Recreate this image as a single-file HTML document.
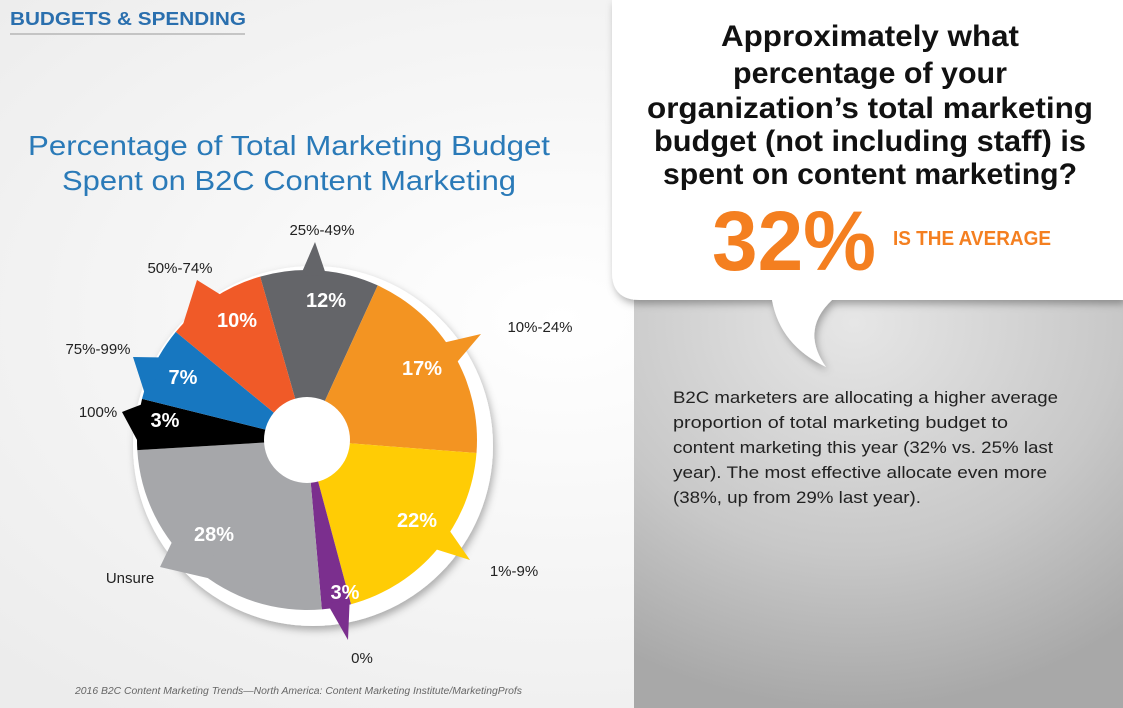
<!DOCTYPE html>
<html><head><meta charset="utf-8"><style>
html,body{margin:0;padding:0;width:1123px;height:708px;overflow:hidden;background:#fff}
svg{display:block;font-family:"Liberation Sans",sans-serif}
</style></head><body>
<svg width="1123" height="708" viewBox="0 0 1123 708" xmlns="http://www.w3.org/2000/svg">
<defs>
<radialGradient id="bg" cx="0.5" cy="0.45" r="0.7">
<stop offset="0" stop-color="#ffffff"/><stop offset="1" stop-color="#ececec"/></radialGradient>
<radialGradient id="gp" cx="0.45" cy="0.1" r="0.9">
<stop offset="0" stop-color="#e6e6e6"/><stop offset="0.6" stop-color="#c8c8c8"/><stop offset="1" stop-color="#a8a8a8"/></radialGradient>
<filter id="sh" x="-10%" y="-10%" width="130%" height="130%"><feDropShadow dx="2" dy="4" stdDeviation="4" flood-opacity="0.3"/></filter>
</defs>
<rect width="1123" height="708" fill="url(#bg)"/>
<rect x="634" y="280" width="489" height="428" fill="url(#gp)"/>
<g filter="url(#sh)">
<path d="M612,0 H1123 V300 H832 Q800,330 826,367 Q780,345 772,300 H640 Q612,300 612,272 Z" fill="#fff"/>
</g>
<text x="10" y="25" font-size="18" font-weight="bold" fill="#2a6fae" textLength="236" lengthAdjust="spacingAndGlyphs">BUDGETS &amp; SPENDING</text>
<line x1="10" y1="34" x2="245" y2="34" stroke="#999" stroke-width="1"/>
<text x="289" y="155" font-size="28" fill="#2a7ab8" text-anchor="middle" textLength="522" lengthAdjust="spacingAndGlyphs">Percentage of Total Marketing Budget</text>
<text x="289" y="190" font-size="28" fill="#2a7ab8" text-anchor="middle" textLength="454" lengthAdjust="spacingAndGlyphs">Spent on B2C Content Marketing</text>
<circle cx="313" cy="446" r="180" fill="#fff" filter="url(#sh)"/>
<g id="pie" transform="translate(307,440)"></g>
<g font-size="15" fill="#222" text-anchor="middle">
<text x="322" y="235">25%-49%</text>
<text x="180" y="273">50%-74%</text>
<text x="540" y="332">10%-24%</text>
<text x="98" y="354">75%-99%</text>
<text x="98" y="417">100%</text>
<text x="130" y="583">Unsure</text>
<text x="362" y="663">0%</text>
<text x="514" y="576">1%-9%</text>
</g>
<g font-size="20" font-weight="bold" fill="#fff" text-anchor="middle">
<text x="326" y="307">12%</text>
<text x="237" y="327">10%</text>
<text x="422" y="375">17%</text>
<text x="183" y="384">7%</text>
<text x="165" y="427">3%</text>
<text x="214" y="541">28%</text>
<text x="417" y="527">22%</text>
<text x="345" y="599">3%</text>
</g>
<g font-size="30" font-weight="bold" fill="#111" text-anchor="middle" lengthAdjust="spacingAndGlyphs">
<text x="870" y="46" textLength="298" lengthAdjust="spacingAndGlyphs">Approximately what</text>
<text x="870" y="83" textLength="274" lengthAdjust="spacingAndGlyphs">percentage of your</text>
<text x="870" y="118" textLength="446" lengthAdjust="spacingAndGlyphs">organization’s total marketing</text>
<text x="870" y="151" textLength="432" lengthAdjust="spacingAndGlyphs">budget (not including staff) is</text>
<text x="870" y="184" textLength="414" lengthAdjust="spacingAndGlyphs">spent on content marketing?</text>
</g>
<text x="712" y="270" font-size="84" font-weight="bold" fill="#f47f20" textLength="164" lengthAdjust="spacingAndGlyphs">32%</text>
<text x="893" y="245" font-size="20" font-weight="bold" fill="#f47f20" textLength="158" lengthAdjust="spacingAndGlyphs">IS THE AVERAGE</text>
<g font-size="17" fill="#222">
<text x="673" y="403" textLength="385" lengthAdjust="spacingAndGlyphs">B2C marketers are allocating a higher average</text>
<text x="673" y="428" textLength="335" lengthAdjust="spacingAndGlyphs">proportion of total marketing budget to</text>
<text x="673" y="453" textLength="380" lengthAdjust="spacingAndGlyphs">content marketing this year (32% vs. 25% last</text>
<text x="673" y="478" textLength="374" lengthAdjust="spacingAndGlyphs">year). The most effective allocate even more</text>
<text x="673" y="503" textLength="248" lengthAdjust="spacingAndGlyphs">(38%, up from 29% last year).</text>
</g>
<text x="75" y="694" font-size="10" font-style="italic" fill="#666" textLength="447" lengthAdjust="spacingAndGlyphs">2016 B2C Content Marketing Trends—North America: Content Marketing Institute/MarketingProfs</text>
<script>
(function(){
var g=document.getElementById('pie'),ns='http://www.w3.org/2000/svg',R=170;
function pt(a,r){a=a*Math.PI/180;return [r*Math.sin(a),-r*Math.cos(a)];}
var s=[[-16,24.6,'#646569',[315,242]],[24.6,94.4,'#f39422',[481,334]],[94.4,165,'#ffcc05',[470,560]],[165,175,'#7b2f8e',[348,640]],[175,266.6,'#a6a7aa',[160,567]],[266.6,284,'#000',[122,412]],[284,309.5,'#1777c0',[133,357]],[309.5,344,'#f05a28',[197,280]]];
s.forEach(function(d){
var a=pt(d[0],R),b=pt(d[1],R),p=document.createElementNS(ns,'path');
p.setAttribute('d','M0,0L'+a+'A'+R+','+R+' 0 0 1 '+b+'Z');p.setAttribute('fill',d[2]);g.appendChild(p);
var tx=d[3][0]-307,ty=d[3][1]-440,ang=Math.atan2(tx,-ty)*180/Math.PI;
var lo=Math.max(ang-4.5,d[0]),hi=Math.min(ang+4.5,d[1]);
var c=pt(lo,R-5),e=pt(hi,R-5),t=document.createElementNS(ns,'polygon');
t.setAttribute('points',c+' '+tx+','+ty+' '+e);t.setAttribute('fill',d[2]);g.appendChild(t);
});
var h=document.createElementNS(ns,'circle');h.setAttribute('r',43);h.setAttribute('fill','#fff');g.appendChild(h);
})();
</script>
</svg>
</body></html>
